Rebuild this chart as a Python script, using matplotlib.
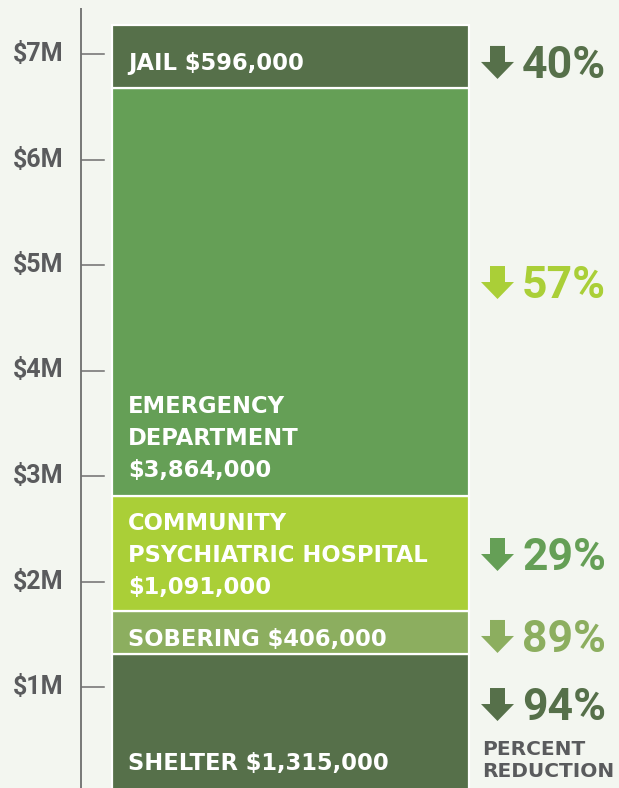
import numpy as np
import matplotlib.pyplot as plt
from matplotlib.patches import Polygon

# ----------------------
# Data
# ----------------------
segments = ['SHELTER', 'SOBERING', 'COMMUNITY\nPSYCHIATRIC HOSPITAL', 'EMERGENCY\nDEPARTMENT', 'JAIL']
costs = [1315000, 406000, 1091000, 3864000, 596000]
label_sep = [' ', ' ', '\n', '\n', ' ']
reductions = [94, 89, 29, 57, 40]
tick_values = [1, 2, 3, 4, 5, 6, 7]

# ----------------------
# Styles / layout
# ----------------------
bg = '#f3f6f0'
seg_colors = ['#56704a', '#8cae5f', '#aacf37', '#659f56', '#56704a']
pct_colors = ['#56704a', '#8cae5f', '#659f56', '#aacf37', '#56704a']
gray = '#5a5b5d'
# last-line baselines (in $M) for the labels inside the bar and on the right
label_base = [0.213, 1.388, 1.880, 2.995, 6.850]
pct_base = [0.687, 1.332, 2.109, 4.687, 6.773]

W, H = 619, 788
px_per_m = 105.5
y_zero_px = 792.5
ymin = (y_zero_px - H) / px_per_m
ymax = y_zero_px / px_per_m

fig = plt.figure(figsize=(W / 100, H / 100), dpi=100, facecolor=bg)
ax = fig.add_axes([0, 0, 1, 1])
ax.set_facecolor(bg)
ax.set_xlim(0, W)
ax.set_ylim(ymin, ymax)
ax.axis('off')

# axis line + ticks
ax.plot([81, 81], [ymin, (y_zero_px - 8) / px_per_m], color='#6e6e6e', lw=1.3, solid_capstyle='butt')
for m in tick_values:
    ax.plot([82, 104], [m, m], color='#6e6e6e', lw=1.1)
    ax.text(63, m, f'${m}M', ha='right', va='center', fontsize=18,
            fontfamily='Roboto', fontweight='bold', color=gray)

# stacked bar
values_m = np.array(costs) / 1e6
bottoms = np.concatenate([[0], np.cumsum(values_m)[:-1]])
ax.bar(290.5, values_m, width=357, bottom=bottoms, color=seg_colors,
       edgecolor='white', linewidth=1.6)

for name, sep, cost, yb in zip(segments, label_sep, costs, label_base):
    ax.text(128, yb, f'{name}{sep}${cost:,}', ha='left', va='baseline',
            fontsize=16.3, fontfamily='DejaVu Sans', fontweight='bold',
            color='white', linespacing=1.5)

# percent reductions with down arrows
def down_arrow(ax, xc, tip_y, color):
    h = 33 / px_per_m
    head = 17 / px_per_m
    pts = [(xc - 7.5, tip_y + h), (xc + 7.5, tip_y + h), (xc + 7.5, tip_y + head),
           (xc + 16.5, tip_y + head), (xc, tip_y), (xc - 16.5, tip_y + head),
           (xc - 7.5, tip_y + head)]
    ax.add_patch(Polygon(pts, closed=True, color=color, lw=0))

for pct, yb, c in zip(reductions, pct_base, pct_colors):
    down_arrow(ax, 497.5, yb - 1 / px_per_m, c)
    ax.text(522, yb, f'{pct}%', ha='left', va='baseline', fontsize=32,
            fontfamily='Roboto', fontweight='bold', color=c)

ax.text(482, (y_zero_px - 777) / px_per_m, 'PERCENT\nREDUCTION', ha='left', va='baseline',
        fontsize=14.5, fontfamily='DejaVu Sans', fontweight='bold', color=gray,
        linespacing=1.22)

fig.savefig('out.png', dpi=100, facecolor=bg)
